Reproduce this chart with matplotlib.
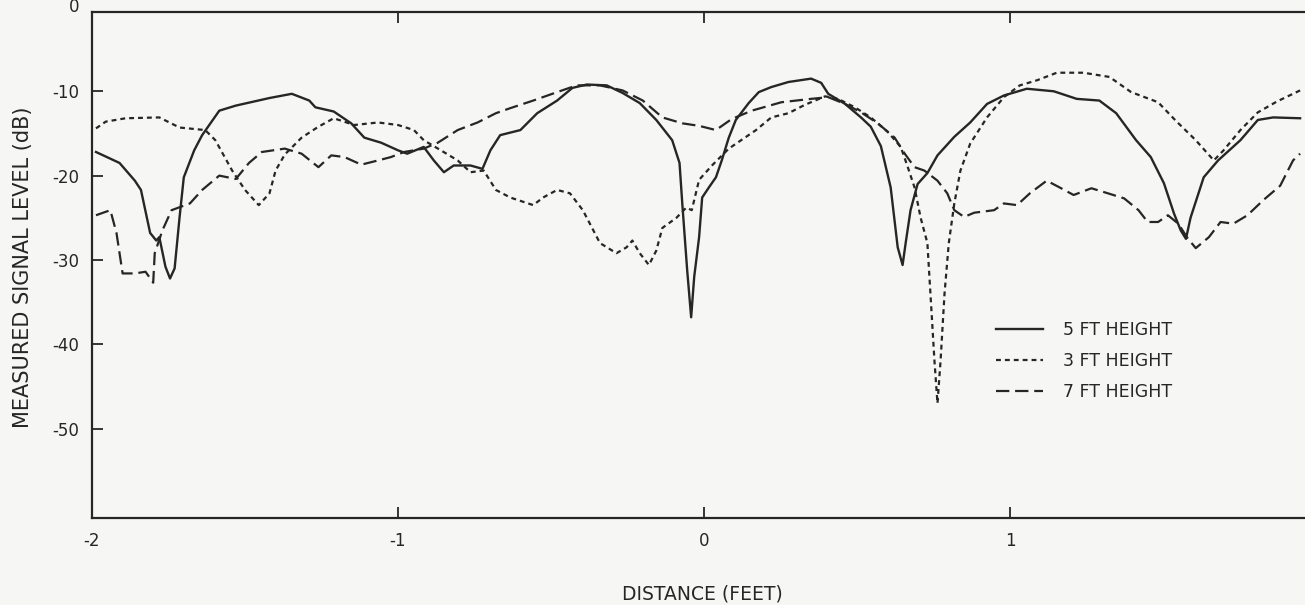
import matplotlib
matplotlib.use("Agg")
import matplotlib.pyplot as plt

# 5 ft height (solid)
x5 = [-1.987, -1.91, -1.86, -1.84, -1.81, -1.79, -1.78, -1.76, -1.745, -1.73,
      -1.714, -1.70, -1.666, -1.64, -1.584, -1.53, -1.42, -1.347, -1.29, -1.27,
      -1.21, -1.153, -1.11, -1.055, -1.0, -0.97, -0.916, -0.883, -0.85, -0.818,
      -0.763, -0.724, -0.698, -0.666, -0.60, -0.545, -0.48, -0.43, -0.383, -0.318,
      -0.266, -0.21, -0.156, -0.104, -0.08, -0.071, -0.055, -0.042, -0.032, -0.016,
      -0.006, 0.016, 0.039, 0.058, 0.081, 0.104, 0.146, 0.179, 0.22, 0.276,
      0.35, 0.383, 0.406, 0.461, 0.513, 0.545, 0.578, 0.61, 0.633, 0.649,
      0.659, 0.675, 0.698, 0.73, 0.763, 0.818, 0.87, 0.925, 0.98, 1.055,
      1.143, 1.218, 1.292, 1.347, 1.412, 1.46, 1.503, 1.536, 1.558, 1.575,
      1.59, 1.633, 1.68, 1.753, 1.81, 1.86, 1.948]
y5 = [-17.2, -18.5, -20.6, -21.7, -26.8, -27.7, -27.3, -30.8, -32.2, -31.0,
      -25.0, -20.2, -17.0, -15.2, -12.3, -11.7, -10.8, -10.3, -11.1, -11.9,
      -12.4, -13.8, -15.5, -16.1, -17.0, -17.4, -16.6, -18.2, -19.6, -18.8,
      -18.8, -19.2, -17.0, -15.2, -14.6, -12.6, -11.1, -9.6, -9.2, -9.3,
      -10.2, -11.4, -13.4, -15.8, -18.5, -23.3, -31.2, -36.8, -32.0, -27.3,
      -22.6, -21.4, -20.2, -18.2, -15.5, -13.4, -11.4, -10.1, -9.5, -8.9,
      -8.5, -9.0, -10.3, -11.5, -13.1, -14.2, -16.5, -21.4, -28.5, -30.6,
      -28.0, -24.1, -21.0, -19.7, -17.6, -15.4, -13.7, -11.5, -10.5, -9.7,
      -10.0, -10.9, -11.1, -12.6, -15.8, -17.8, -20.9, -24.5, -26.5, -27.5,
      -25.0, -20.2, -18.2, -15.8, -13.4, -13.1, -13.2]

# 3 ft height (short dashes)
x3 = [-1.987, -1.955, -1.89, -1.78, -1.714, -1.63, -1.597, -1.542, -1.50, -1.455,
      -1.42, -1.40, -1.37, -1.315, -1.26, -1.21, -1.143, -1.065, -1.0, -0.948,
      -0.916, -0.86, -0.805, -0.763, -0.72, -0.68, -0.633, -0.558, -0.526, -0.48,
      -0.438, -0.396, -0.373, -0.34, -0.286, -0.253, -0.234, -0.21, -0.18, -0.156,
      -0.136, -0.09, -0.058, -0.04, -0.016, 0.026, 0.081, 0.17, 0.22, 0.276,
      0.33, 0.396, 0.438, 0.493, 0.545, 0.60, 0.643, 0.666, 0.688, 0.708,
      0.73, 0.74, 0.753, 0.763, 0.773, 0.786, 0.80, 0.818, 0.838, 0.87,
      0.925, 0.98, 1.032, 1.088, 1.153, 1.24, 1.325, 1.396, 1.484, 1.542,
      1.607, 1.666, 1.698, 1.753, 1.81, 1.873, 1.948]
y3 = [-14.4, -13.6, -13.2, -13.1, -14.3, -14.6, -15.8, -19.4, -21.7, -23.5,
      -22.1, -19.4, -17.5, -15.5, -14.2, -13.2, -14.0, -13.7, -14.0, -14.6,
      -15.8, -17.0, -18.2, -19.6, -19.4, -21.7, -22.6, -23.5, -22.6, -21.7,
      -22.1, -24.1, -25.7, -28.0, -29.2, -28.5, -27.7, -29.2, -30.6, -28.9,
      -26.2, -25.0, -23.8, -24.1, -20.5, -18.8, -16.8, -14.6, -13.1, -12.6,
      -11.6, -10.6, -10.9, -11.9, -13.1, -14.8, -16.6, -19.0, -21.4, -25.0,
      -28.0, -34.0, -41.9, -47.0, -42.0, -34.0, -28.0, -23.3, -19.4, -16.2,
      -13.1, -10.7, -9.3, -8.7, -7.8, -7.8, -8.3, -10.1, -11.3, -13.5,
      -15.8, -18.2, -17.0, -14.6, -12.5, -11.2, -9.9]

# 7 ft height (long dashes)
x7 = [-1.987, -1.94, -1.92, -1.90, -1.86, -1.825, -1.80, -1.795, -1.77, -1.74,
      -1.68, -1.64, -1.584, -1.53, -1.487, -1.445, -1.37, -1.315, -1.26, -1.218,
      -1.175, -1.12, -1.065, -1.023, -0.98, -0.916, -0.87, -0.805, -0.74, -0.68,
      -0.633, -0.558, -0.48, -0.416, -0.34, -0.266, -0.20, -0.136, -0.071, -0.016,
      0.039, 0.09, 0.156, 0.253, 0.35, 0.406, 0.461, 0.513, 0.568, 0.623,
      0.656, 0.688, 0.72, 0.763, 0.795, 0.818, 0.85, 0.883, 0.948, 0.98,
      1.023, 1.065, 1.12, 1.162, 1.208, 1.266, 1.32, 1.373, 1.42, 1.45,
      1.484, 1.516, 1.55, 1.58, 1.607, 1.65, 1.688, 1.73, 1.776, 1.828,
      1.883, 1.925, 1.948]
y7 = [-24.7, -24.1, -26.8, -31.6, -31.6, -31.4, -32.7, -29.2, -26.5, -24.1,
      -23.3, -21.7, -20.0, -20.4, -18.5, -17.2, -16.8, -17.4, -19.0, -17.6,
      -17.8, -18.7, -18.2, -17.8, -17.2, -16.8, -16.1, -14.6, -13.7, -12.6,
      -12.0, -11.1, -10.1, -9.3, -9.3, -9.9, -11.1, -13.1, -13.8, -14.1,
      -14.6, -13.3, -12.3, -11.3, -10.9, -10.7, -11.5, -12.5, -13.8, -15.5,
      -17.4, -19.0, -19.4, -20.6, -22.1, -24.1, -24.9, -24.4, -24.1, -23.3,
      -23.5, -22.1, -20.6, -21.4, -22.3, -21.5, -22.1, -22.7, -24.1, -25.5,
      -25.5, -24.7, -25.7, -27.4, -28.6, -27.3, -25.5, -25.7, -24.7, -22.9,
      -21.2, -18.2, -17.4]

labels = ["5 FT HEIGHT", "3 FT HEIGHT", "7 FT HEIGHT"]
xticks = [-2, -1, 0, 1, 2]
yticks = [-50, -40, -30, -20, -10]

ink = "#262626"
paper = "#f6f6f4"

plt.rcParams["axes.unicode_minus"] = False
plt.rcParams["font.family"] = "DejaVu Sans"

fig = plt.figure(figsize=(13.05, 6.05), dpi=100, facecolor=paper)
ax = fig.add_axes([92 / 1305, 87 / 605, 1224 / 1305, 506 / 605])
ax.set_facecolor(paper)

ax.plot(x5, y5, color=ink, lw=1.7, label=labels[0])
ax.plot(x3, y3, color=ink, lw=1.6, dashes=(2.2, 1.8), label=labels[1])
ax.plot(x7, y7, color=ink, lw=1.6, dashes=(6, 2.6), label=labels[2])

ax.set_xlim(-2, 2)
ax.set_ylim(-60.6, -0.6)
ax.set_xticks(xticks)
ax.set_xticklabels([str(v) for v in xticks])
ax.set_yticks(yticks)
ax.set_yticklabels([str(v) for v in yticks])

for s in ax.spines.values():
    s.set_linewidth(1.6)
    s.set_color(ink)

ax.tick_params(axis="both", direction="in", length=8, width=1.3, colors=ink,
               labelsize=12, top=True, right=True)
ax.tick_params(axis="x", pad=10)
ax.tick_params(axis="y", pad=9)

# the "0" label sits just above the frame, half cut by the page edge
ax.annotate("0", xy=(0, 0), xycoords=("axes fraction", "data"), xytext=(-9, 0),
            textcoords="offset points", ha="right", va="center", fontsize=12,
            color=ink, annotation_clip=False)

ax.set_ylabel("MEASURED SIGNAL LEVEL (dB)", fontsize=15, color=ink)
ax.yaxis.set_label_coords(-0.048, 0.495)
fig.text(702 / 1305, 1 - 594 / 605, "DISTANCE (FEET)", fontsize=13.5, color=ink,
         ha="center", va="center")

ax.legend(loc="upper left", bbox_to_anchor=(987 / 1305, 1 - 312 / 605),
          bbox_transform=fig.transFigure, frameon=False, fontsize=12.5,
          handlelength=2.7, handletextpad=1.2, labelspacing=0.75, borderpad=0,
          labelcolor=ink)

fig.savefig("out.png", dpi=100, facecolor=paper)
